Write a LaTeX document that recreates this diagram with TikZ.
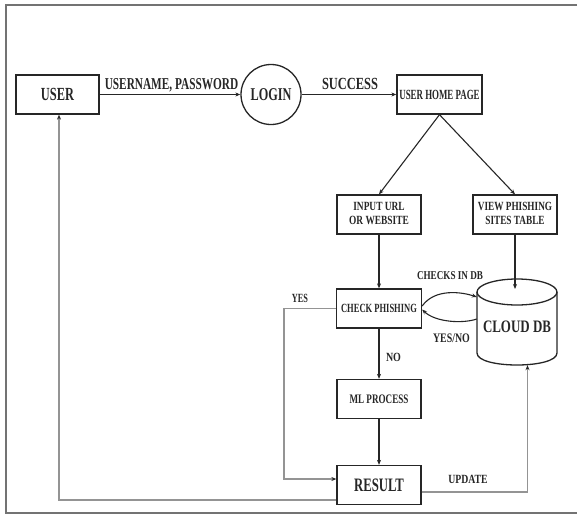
\documentclass[tikz,border=0pt]{standalone}
\usepackage{fontspec}
\setmainfont{Liberation Serif}
\usepackage{graphicx}
\usetikzlibrary{arrows.meta}
\newcommand{\tx}[3]{{\fontsize{#1}{#1}\selectfont\bfseries\scalebox{#2}[1]{#3}}}
\newcommand{\ttx}[4]{{\fontsize{#1}{14}\selectfont\bfseries\scalebox{#2}[1]{\begin{tabular}{@{}c@{}}#3\\#4\end{tabular}}}}
\begin{document}
\begin{tikzpicture}[x=1pt,y=-1pt,
  box/.style={draw=black!85, line width=1.3pt, inner sep=0pt, minimum width=84pt, minimum height=39pt, text=black!85},
  arr/.style={draw=black!85, line width=1.1pt, -{Stealth[length=5pt,width=4pt]}},
  garr/.style={draw=black!42, line width=1.4pt, -{Stealth[length=5pt,width=4pt,color=black!85]}},
  cyl/.style={draw=black!85, line width=1.3pt},
  lab/.style={anchor=base, inner sep=0pt, text=black!85},
  frame/.style={draw=black!55, line width=2pt}
]
\useasboundingbox (0,0) rectangle (584,517);
\draw[frame] (577,5) -- (6,5) -- (6,513) -- (577,513);

\node[box, minimum width=83pt] (user) at (57.5,94.5) {\tx{18.5}{0.67}{USER}};
\node[draw=black!85, line width=1.3pt, circle, minimum size=60pt, inner sep=0pt, text=black!85] (login) at (271,94.5) {\tx{18}{0.68}{LOGIN}};
\node[box, minimum width=85pt] (uhp) at (439.5,94.5) {\tx{14}{0.635}{USER HOME PAGE}};
\node[box] (input) at (379,214.5) {\ttx{12.5}{0.75}{INPUT URL}{OR WEBSITE}};
\node[box] (view) at (515,214.5) {\ttx{12.5}{0.74}{VIEW PHISHING}{SITES TABLE}};
\node[box, minimum width=85pt] (check) at (379,308.5) {\tx{12.5}{0.68}{CHECK PHISHING}};
\node[box] (ml) at (379,399) {\tx{13}{0.70}{ML PROCESS}};
\node[box] (result) at (379,485) {\tx{19}{0.67}{RESULT}};

% cloud DB cylinder
\node[minimum width=80pt, minimum height=86pt, inner sep=0pt] (db) at (517,322) {};
\draw[cyl] (477,292) -- (477,353) .. controls (477,369) and (557,369) .. (557,353) -- (557,292);
\draw[cyl] (517,292) ellipse [x radius=40pt, y radius=13pt];
\node[text=black!85] (dblabel) at (517,327) {\tx{17.5}{0.74}{CLOUD DB}};
\coordinate (dbtop) at (515,289);

% labels
\node[lab] (l1) at (171.5,89) {\tx{16.6}{0.68}{USERNAME, PASSWORD}};
\node[lab] (l2) at (350,89) {\tx{17}{0.73}{SUCCESS}};
\node[lab] (l3) at (450,279.3) {\tx{12}{0.76}{CHECKS IN DB}};
\node[lab] (l4) at (300,302) {\tx{12.5}{0.66}{YES}};
\node[lab] (l5) at (451.5,342.5) {\tx{13}{0.76}{YES/NO}};
\node[lab] (l6) at (393.5,361) {\tx{12.5}{0.8}{NO}};
\node[lab] (l7) at (468,483) {\tx{12.5}{0.78}{UPDATE}};

% connectors
\draw[arr] (user) -- (login);
\draw[arr] (login) -- (uhp);
\draw[arr] (uhp.south) -- (input.north);
\draw[arr] (uhp.south) -- (view.north);
\draw[arr] (input) -- (check);
\draw[arr] (view.south) -- (dbtop);
\draw[arr] ([yshift=2.5pt]check.east) .. controls (435,288) and (462,292) .. ([yshift=25pt]db.west);
\draw[arr] ([yshift=3pt]db.west) .. controls (462,324) and (435,322) .. ([yshift=-1pt]check.east);
\draw[arr] (check) -- (ml);
\draw[arr] (ml) -- (result);

\draw[garr] (check.west) -- ++(-52,0) |- ([yshift=6pt]result.west);
\draw[garr] ([yshift=-15pt]result.west) -| ([xshift=1.5pt]user.south);
\draw[garr] ([yshift=-7pt]result.east) -| ([xshift=10.5pt]db.south);
\end{tikzpicture}
\end{document}
